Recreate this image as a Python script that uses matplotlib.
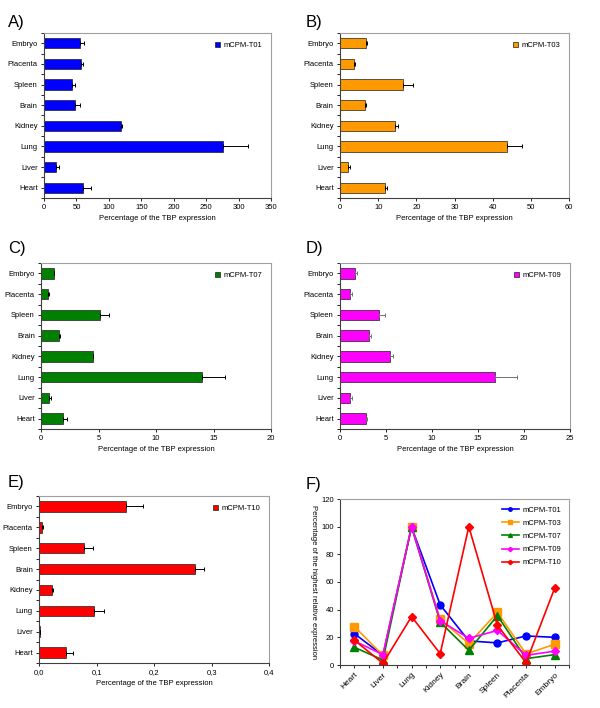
import matplotlib
matplotlib.use("Agg")
import matplotlib.pyplot as plt
import numpy as np
from matplotlib.ticker import FuncFormatter

plt.rcParams['font.family'] = ['Liberation Sans', 'DejaVu Sans']

tissues = ["Heart", "Liver", "Lung", "Kidney", "Brain", "Spleen", "Placenta", "Embryo"]

t01_vals = [60.3, 19.0, 275.8, 118.5, 48.0, 43.0, 57.7, 55.0]
t01_errs = [12.4, 4.0, 38.0, 1.1, 7.0, 5.0, 2.3, 7.0]
t03_vals = [11.9, 2.0, 43.8, 14.5, 6.6, 16.6, 3.7, 6.7]
t03_errs = [0.4, 0.6, 4.0, 0.8, 0.1, 2.4, 0.2, 0.3]
t07_vals = [1.92, 0.73, 14.04, 4.5, 1.6, 5.17, 0.64, 1.13]
t07_errs = [0.35, 0.14, 1.95, 0.06, 0.06, 0.7, 0.09, 0.03]
t09_vals = [2.87, 1.09, 16.9, 5.44, 3.19, 4.28, 1.09, 1.63]
t09_errs = [0.1, 0.21, 2.3, 0.36, 0.22, 0.65, 0.18, 0.26]
t10_vals = [0.0475, 0.0017, 0.0962, 0.0226, 0.2713, 0.078, 0.0058, 0.1519]
t10_errs = [0.0115, 0.0003, 0.0174, 0.0024, 0.0157, 0.0165, 0.0012, 0.0295]

norm_t01 = [22.7, 7.0, 99.8, 43.5, 17.4, 16.0, 21.0, 20.0]
norm_t03 = [27.8, 7.0, 100.0, 33.0, 15.5, 38.0, 8.0, 15.0]
norm_t07 = [12.8, 3.6, 100.0, 31.0, 10.6, 35.7, 4.6, 7.5]
norm_t09 = [17.4, 7.5, 100.0, 32.0, 19.3, 25.0, 7.0, 10.0]
norm_t10 = [18.0, 1.2, 35.0, 8.2, 100.0, 28.7, 1.7, 55.6]

W, H = 600, 708
fig = plt.figure(figsize=(W / 100, H / 100), dpi=100)

def rect(l, t, r, b):
    return [l / W, 1 - b / H, (r - l) / W, (b - t) / H]

FS = 5.5
GRAY = "#a0a0a0"

def style_axes(ax):
    for s in ["top", "right"]:
        ax.spines[s].set_color(GRAY)
        ax.spines[s].set_linewidth(0.8)
    for s in ["left", "bottom"]:
        ax.spines[s].set_color("#404040")
        ax.spines[s].set_linewidth(0.8)
    ax.tick_params(labelsize=FS, length=2.5, width=0.6, pad=2)

def panel_letter(px, py, letter):
    fig.text(px / W, 1 - py / H, letter, fontsize=12, ha="left", va="center")

def bar_panel(pos, vals, errs, color, name, xmax, step, comma=False, errcolor="black"):
    ax = fig.add_axes(rect(*pos))
    y = np.arange(len(tissues))
    ax.barh(y, vals, height=0.5, color=color, edgecolor="#202020", linewidth=0.5,
            label=name, zorder=2)
    ax.errorbar(vals, y, xerr=[np.zeros(len(vals)), errs], fmt="none",
                ecolor=errcolor, elinewidth=0.7, capsize=1.5, capthick=0.7, zorder=3)
    ax.set_xlim(0, xmax)
    ax.set_ylim(-0.5, len(tissues) - 0.5)
    ax.set_xticks(np.arange(0, xmax + step / 2, step))
    if comma:
        ax.xaxis.set_major_formatter(FuncFormatter(lambda v, p: f"{v:.1f}".replace(".", ",")))
    ax.set_yticks(y)
    ax.set_yticklabels(tissues)
    ax.set_yticks(np.arange(-0.5, len(tissues), 1), minor=True)
    ax.tick_params(axis="y", which="major", length=0)
    ax.tick_params(axis="y", which="minor", length=2.5, width=0.6)
    style_axes(ax)
    ax.set_xlabel("Percentage of the TBP expression", fontsize=FS, labelpad=3)
    ax.legend(loc="upper right", fontsize=FS, frameon=False, handlelength=0.6,
              handleheight=0.6, handletextpad=0.4, borderaxespad=0.8)
    return ax

bar_panel((44, 33, 271, 198), t01_vals, t01_errs, "#0000ff", "mCPM-T01", 350, 50)
bar_panel((340, 33, 569, 198), t03_vals, t03_errs, "#ff9900", "mCPM-T03", 60, 10)
bar_panel((41, 263, 271, 429), t07_vals, t07_errs, "#008000", "mCPM-T07", 20, 5)
bar_panel((340, 263, 570, 429), t09_vals, t09_errs, "#ff00ff", "mCPM-T09", 25, 5, errcolor="#707070")
bar_panel((39, 496, 269, 663), t10_vals, t10_errs, "#ff0000", "mCPM-T10", 0.4, 0.1, comma=True)

panel_letter(8, 23, "A)")
panel_letter(306, 23, "B)")
panel_letter(8, 249, "C)")
panel_letter(306, 249, "D)")
panel_letter(8, 483, "E)")
panel_letter(306, 484, "F)")

# Panel F
pos = (340, 499, 569, 665)
ax = fig.add_axes(rect(*pos))
x = np.arange(len(tissues))
series = [
    (norm_t01, "#0000ff", "o", "mCPM-T01", 5),
    (norm_t03, "#ff9900", "s", "mCPM-T03", 5.5),
    (norm_t07, "#008000", "^", "mCPM-T07", 5.5),
    (norm_t09, "#ff00ff", "D", "mCPM-T09", 4.5),
    (norm_t10, "#ff0000", "D", "mCPM-T10", 4.5),
]
for vals, c, m, name, ms in series:
    ax.plot(x, vals, color=c, marker=m, markersize=ms, linewidth=1.2, label=name)
ax.set_xlim(-0.5, len(tissues) - 0.5)
ax.set_ylim(0, 120)
ax.set_yticks(np.arange(0, 121, 20))
ax.set_xticks(x)
ax.set_xticklabels(tissues, rotation=45, ha="right", rotation_mode="anchor")
ax.set_xticks(np.arange(-0.5, len(tissues), 1), minor=True)
ax.tick_params(axis="x", which="major", length=0)
ax.tick_params(axis="x", which="minor", length=2.5, width=0.6)
style_axes(ax)
ax.tick_params(axis="x", labelsize=6)
ax.set_ylabel("Percentage of the highest relative expression", fontsize=FS,
              rotation=-90, labelpad=8)
ax.legend(loc="upper right", fontsize=FS, frameon=False, handlelength=2.2,
          markerscale=0.5, labelspacing=0.75, handletextpad=0.5, borderaxespad=0.6)

fig.savefig("out.png", dpi=100)
